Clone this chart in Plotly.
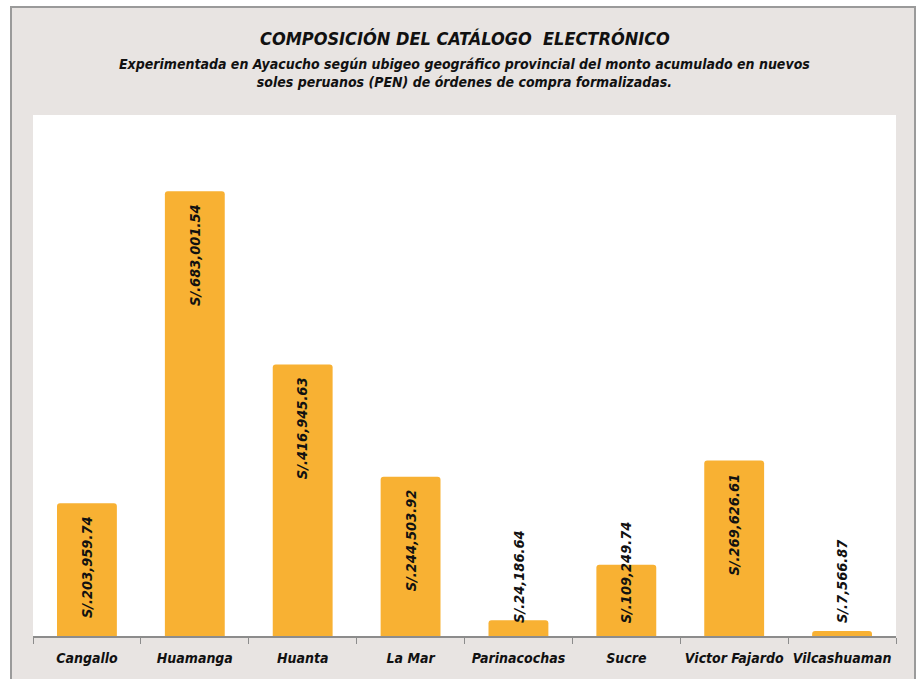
import plotly.graph_objects as go

provincias = ["Cangallo", "Huamanga", "Huanta", "La Mar", "Parinacochas",
              "Sucre", "Victor Fajardo", "Vilcashuaman"]
montos = [203959.74, 683001.54, 416945.63, 244503.92, 24186.64,
          109249.74, 269626.61, 7566.87]
etiquetas = ["S/.203,959.74", "S/.683,001.54", "S/.416,945.63", "S/.244,503.92",
             "S/.24,186.64", "S/.109,249.74", "S/.269,626.61", "S/.7,566.87"]

titulo = "COMPOSICIÓN DEL CATÁLOGO  ELECTRÓNICO"
subtitulo = ("Experimentada en Ayacucho según ubigeo geográfico provincial del monto acumulado en nuevos<br>"
             "soles peruanos (PEN) de órdenes de compra formalizadas.")

FONT = "Liberation Sans Narrow, DejaVu Sans Condensed, sans-serif"
BAR = "#F8B133"
BG = "#E8E4E2"

def f(size):
    return dict(family=FONT, size=size, color="#111", weight="bold", style="italic")

fig = go.Figure()
fig.add_trace(go.Bar(
    x=provincias, y=montos,
    marker=dict(color=BAR, cornerradius=3, line=dict(width=0)),
    hoverinfo="skip",
))

annotations = []
for p, v, t in zip(provincias, montos, etiquetas):
    if v > 150000:
        annotations.append(dict(x=p, y=v, xref="x", yref="y", text=t, showarrow=False,
                                textangle=-90, yanchor="top", yshift=-11, font=f(14.5)))
    else:
        annotations.append(dict(x=p, y=0, xref="x", yref="y", text=t, showarrow=False,
                                textangle=-90, yanchor="bottom", yshift=11, font=f(14.5)))

annotations.append(dict(x=0.5, y=1, xref="paper", yref="paper", text=titulo, showarrow=False,
                        yanchor="middle", yshift=77, font=f(18)))
annotations.append(dict(x=0.5, y=1, xref="paper", yref="paper", text=subtitulo, showarrow=False,
                        yanchor="middle", yshift=42, font=f(14)))

fig.update_layout(
    width=920, height=679,
    margin=dict(l=33, r=24, t=115, b=43),
    paper_bgcolor="white",
    plot_bgcolor="white",
    bargap=0.445,
    showlegend=False,
    annotations=annotations,
    shapes=[dict(type="rect", xref="paper", yref="paper",
                 x0=(11 - 33) / 863, x1=(915 - 33) / 863,
                 y0=(636 - 700) / 521, y1=(636 - 7) / 521,
                 fillcolor=BG, line=dict(color="#9a9a9a", width=2), layer="below"),
            dict(type="rect", xref="paper", yref="paper", x0=0, x1=1, y0=0, y1=1,
                 fillcolor="white", line=dict(width=0), layer="below")],
)
fig.update_xaxes(showline=True, linecolor="#8c8c8c", linewidth=2,
                 ticks="outside", tickson="boundaries", ticklen=6, tickcolor="#8c8c8c",
                 tickangle=0, automargin=False, ticklabelstandoff=8,
                 tickfont=f(14), showgrid=False, fixedrange=True)
fig.update_yaxes(range=[0, 800000], visible=False, showgrid=False, fixedrange=True)

fig.write_html("out.html", config={"displayModeBar": False},
               post_script="document.body.style.margin='0';document.body.style.overflow='hidden';")
